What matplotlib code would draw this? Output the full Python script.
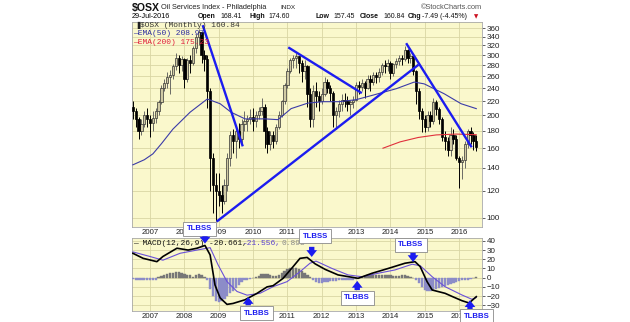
import numpy as np
import matplotlib.pyplot as plt
from matplotlib.ticker import FixedLocator, NullLocator

# month index: 0 = Jan 2007 ; data Jul 2006 .. Jul 2016
months = np.arange(-6, 115)
years = ['2007', '2008', '2009', '2010', '2011', '2012', '2013', '2014', '2015', '2016']
year_start = [0, 12, 24, 36, 48, 60, 72, 84, 96, 108]

opens = [212, 205, 195, 180, 188, 200,
         195, 190, 196, 205, 218, 240, 248, 258, 262, 278, 295, 280,
         292, 255, 290, 285, 315, 340, 350, 300, 292, 235, 150, 125,
         120, 117, 112, 125, 150, 175, 168, 180, 170, 188, 192, 195,
         198, 192, 200, 205, 212, 180, 165, 175, 168, 185, 200, 220,
         245, 270, 290, 295, 298, 285, 270, 278, 230, 195, 235, 228,
         220, 230, 250, 240, 232, 200, 205, 215, 222, 220, 215, 218,
         222, 245, 242, 248, 240, 255, 250, 262, 258, 268, 280, 278,
         285, 265, 282, 288, 295, 292, 310, 295, 298, 270, 235, 205,
         195, 185, 200, 192, 218, 208, 195, 172, 168, 158, 175, 170,
         150, 146, 148, 165, 180, 175, 168.41]
closes = [205, 195, 180, 188, 200, 195,
          190, 196, 205, 218, 240, 248, 258, 262, 278, 295, 280, 292,
          255, 290, 285, 315, 340, 350, 300, 292, 235, 150, 125, 120,
          117, 112, 125, 150, 175, 168, 180, 170, 188, 192, 195, 198,
          192, 200, 205, 212, 180, 165, 175, 168, 185, 200, 220, 245,
          270, 290, 295, 298, 285, 270, 278, 230, 195, 235, 228, 220,
          230, 250, 240, 232, 200, 205, 215, 222, 220, 215, 218, 222,
          245, 242, 248, 240, 255, 250, 262, 258, 268, 280, 278, 285,
          265, 282, 288, 295, 292, 310, 295, 298, 270, 235, 205, 195,
          185, 200, 192, 218, 208, 195, 172, 168, 158, 175, 170, 150,
          146, 148, 165, 180, 175, 168, 160.84]
highs = [220, 210, 198, 195, 205, 210,
         200, 205, 210, 222, 245, 255, 268, 272, 282, 305, 300, 298,
         295, 295, 300, 318, 345, 358, 350, 310, 300, 240, 155, 135,
         135, 125, 130, 155, 180, 182, 185, 190, 195, 205, 200, 208,
         210, 205, 212, 225, 215, 185, 180, 180, 188, 205, 222, 248,
         275, 295, 300, 305, 298, 290, 290, 280, 240, 245, 250, 235,
         240, 258, 255, 245, 235, 212, 222, 230, 232, 228, 222, 228,
         250, 252, 255, 252, 262, 262, 268, 268, 275, 285, 290, 292,
         288, 285, 295, 300, 300, 318, 312, 305, 300, 272, 240, 210,
         200, 205, 205, 225, 222, 212, 198, 180, 172, 185, 182, 175,
         152, 152, 168, 182, 184, 178, 174.6]
lows = [195, 185, 170, 175, 185, 185,
        172, 180, 190, 200, 215, 235, 240, 230, 255, 272, 265, 270,
        240, 250, 265, 280, 305, 320, 285, 270, 210, 120, 103, 98,
        108, 103, 110, 120, 142, 155, 150, 160, 165, 180, 180, 188,
        180, 185, 195, 200, 160, 155, 158, 160, 165, 182, 198, 215,
        240, 265, 275, 275, 265, 250, 255, 212, 185, 185, 212, 205,
        215, 228, 232, 220, 185, 182, 198, 205, 212, 205, 200, 210,
        220, 230, 235, 225, 238, 235, 245, 248, 250, 262, 265, 270,
        255, 260, 275, 280, 280, 288, 285, 285, 262, 215, 195, 178,
        178, 180, 185, 188, 200, 188, 168, 158, 152, 152, 165, 148,
        122, 130, 140, 160, 165, 158, 157.45]

ema50_m = [-6, -2, 1, 4, 8, 14, 20, 24.5, 28.3, 33.2, 40.2, 44.7, 49.3, 55.2,
           60.5, 66, 72, 78, 86, 92.3, 95.8, 102.8, 108.7, 114]
ema50_v = [143, 148, 154, 165, 182, 204, 223, 216, 204, 195, 195, 194, 209, 217,
           219, 219, 222, 229, 239, 250, 247, 231, 216, 208.97]
ema200_m = [81.4, 87.4, 93.7, 100, 107, 114]
ema200_v = [160, 167, 172, 175, 176, 175.23]

macd_m = [-6, -2.4, 2.4, 4.5, 9.4, 13.3, 16.4, 19.2, 21, 22.7, 24.5, 26.9, 29,
          33.2, 37.4, 40.9, 43, 46.5, 50, 52.4, 54.9, 57.7, 61.2, 65.7, 72.7,
          77.6, 83.2, 89.1, 92.6, 94.4, 96.8, 98.6, 103.1, 106, 109, 111.5, 114]
macd_v = [26.5, 21, 17.4, 23, 32, 30, 32, 35, 24.7, -8, -22, -29, -28,
          -24, -17, -10, -8.7, -0.7, 12, 21, 22, 15, 9, 3, -0.7,
          4.8, 10, 15.7, 17.4, 12, -4.3, -13.4, -17, -21, -25, -27.5, -20.661]
sig_m = [-6, 0, 4.5, 10.5, 16.4, 21, 23.8, 26.9, 30.4, 33.9, 38.4, 43, 47.9,
         52.4, 55.9, 58, 63.6, 69.2, 74.1, 79.7, 85.6, 91.6, 94.4, 98.6, 103.1,
         109, 112.5, 114]
sig_v = [28, 23, 19, 26.5, 30, 32.6, 13.8, -4.3, -15, -19, -17, -9.8, -4.3,
         6.5, 15.7, 18, 10, 3, 1, 4.8, 8.4, 14.6, 13, 1, -9.8,
         -18.8, -23.5, -21.556]
hist = [-1, -2, -2, -2, -3, -3,
        -3, -3, -2, 1, 2, 3, 4, 5, 5, 6, 6, 5,
        4, 3, 3, 1, 3, 4, 3, 1, -3, -12, -20, -25,
        -26, -25, -23, -20, -17, -14, -11, -8, -5, -3, -2, -1,
        0, 1, 2, 4, 4, 4, 3, 2, 2, 3, 5, 7,
        9, 10, 11, 10, 9, 7, 5, 3, 1, -3, -5, -6,
        -6, -5, -5, -4, -4, -4, -3, -3, -3, -2, -2, -2,
        -1, 0, 1, 2, 3, 3, 3, 3, 3, 3, 3, 3,
        3, 2, 2, 2, 3, 3, 2, 1, 0, -2, -6, -10,
        -13, -14, -14, -13, -12, -11, -10, -9, -8, -7, -6, -5,
        -4, -3, -2, -2, -1, 0, 0.895]

# hand drawn trend lines (month, price)
trend_lines = [[(18.4, 367), (32.4, 162)],
               [(23.3, 97.5), (93.8, 281)],
               [(48.3, 316), (74, 232)],
               [(89.5, 325), (112.4, 161)]]

# signal boxes: label, box (month, macd), arrow tip, arrow tail
signals = [('TLBSS', (17.3, 52.9), (19.2, 37.0), (19.2, 45.0)),
           ('TLBSS', (57.7, 44.8), (56.5, 22.5), (56.5, 33.5)),
           ('TLBBS', (37.2, -38.6), (34.3, -21.0), (34.3, -30.0)),
           ('TLBBS', (72.4, -22.0), (72.4, -3.5), (72.4, -13.5)),
           ('TLBSS', (91.2, 35.5), (91.9, 17.0), (91.9, 27.0)),
           ('TLBBS', (114.2, -42.0), (111.8, -24.5), (111.8, -34.0))]

W, H = 630, 322
BG = '#faf8cc'
GRID = '#d9d6a4'
BLUE = '#1c1cf0'
SANS = 'Liberation Sans'
MONO = 'Liberation Mono'

def fx(x):
    return x / W

def fy(y):
    return 1 - y / H

fig = plt.figure(figsize=(6.3, 3.22), dpi=100)
ax = fig.add_axes([fx(132), fy(227), fx(482) - fx(132), fy(22) - fy(227)])
ax2 = fig.add_axes([fx(132), fy(311), fx(482) - fx(132), fy(238) - fy(311)])

o = np.array(opens, float)
c = np.array(closes, float)
hi = np.array(highs, float)
lo = np.array(lows, float)
up = c >= o
body_lo = np.minimum(o, c)
body_h = np.maximum(np.abs(c - o), 0.8)

ax.set_yscale('log')
ax.vlines(months[up], lo[up], hi[up], color='#555555', lw=0.6, zorder=3)
ax.vlines(months[~up], lo[~up], hi[~up], color='black', lw=0.7, zorder=3)
ax.bar(months[up], body_h[up], bottom=body_lo[up], width=0.8,
       color='#d0caa4', edgecolor='#333333', lw=0.5, zorder=4)
ax.bar(months[~up], body_h[~up], bottom=body_lo[~up], width=0.8,
       color='black', edgecolor='black', lw=0.5, zorder=4)

ax.plot(ema50_m, ema50_v, color='#3b3ba8', lw=0.8, zorder=5)
ax.plot(ema200_m, ema200_v, color='#e0303c', lw=0.8, zorder=5)
for seg in trend_lines:
    xs, ys = zip(*seg)
    ax.plot(xs, ys, color=BLUE, lw=1.7, zorder=6, solid_capstyle='butt')

ax.set_xlim(-6.3, 116)
ax.set_ylim(94, 375)
ax.yaxis.set_major_locator(FixedLocator(list(range(100, 361, 20))))
ax.yaxis.set_minor_locator(NullLocator())
ax.set_yticklabels([str(v) for v in range(100, 361, 20)])

# MACD panel
hist = np.array(hist, float)
hcol = np.where(hist >= 0, '#777777', '#8c8cc8')
ax2.bar(months, hist, width=0.8, color=hcol, edgecolor=hcol, lw=0.3, zorder=3)
ax2.plot(sig_m, sig_v, color='#6a50d8', lw=0.8, zorder=4)
ax2.plot(macd_m, macd_v, color='black', lw=1.2, zorder=5)
ax2.set_xlim(-6.3, 116)
ax2.set_ylim(-36.2, 43.1)
ax2.set_yticks(list(range(-30, 41, 10)))

for a in (ax, ax2):
    a.set_facecolor(BG)
    a.set_xticks(year_start)
    a.set_xticklabels(years, family=SANS)
    a.yaxis.tick_right()
    a.tick_params(axis='x', length=0, pad=1.5, labelsize=5.6, colors='#222222')
    a.tick_params(axis='y', length=2, width=0.5, pad=1.5, labelsize=5.8,
                  colors='#222222')
    for lab in a.get_yticklabels():
        lab.set_family(SANS)
    a.grid(True, color=GRID, lw=0.6, zorder=0)
    a.set_axisbelow(True)
    for s in a.spines.values():
        s.set_color('#a8a8a8')
        s.set_linewidth(0.6)

for label, box, tip, tail in signals:
    ax2.text(box[0], box[1], label, ha='center', va='center', fontsize=5.6,
             fontweight='bold', color=BLUE, family=SANS,
             bbox=dict(boxstyle='square,pad=0.45', fc='white', ec='#8a8a8a', lw=0.6),
             clip_on=False, zorder=20)
    ax2.annotate('', xy=tip, xytext=tail, annotation_clip=False, zorder=20,
                 arrowprops=dict(arrowstyle='simple,head_length=0.7,head_width=1.1,tail_width=0.55',
                                 fc=BLUE, ec='none', mutation_scale=7,
                                 shrinkA=0, shrinkB=0))

# header
fig.text(fx(132), fy(7.5), '$OSX', fontsize=7.6, fontweight='bold', family=SANS,
         va='center', color='#111111')
fig.text(fx(161), fy(7.5), 'Oil Services Index - Philadelphia', fontsize=5.3,
         family=SANS, va='center', color='#222222')
fig.text(fx(280), fy(7.5), 'INDX', fontsize=4.6, family=SANS, va='center',
         color='#222222')
fig.text(fx(482), fy(7.5), '\u00a9StockCharts.com', fontsize=5.3, family=SANS,
         va='center', ha='right', color='#555555')

fig.text(fx(132), fy(16.5), '29-Jul-2016', fontsize=5.2, family=SANS, va='center')
row = [('Open', True, 198), ('168.41', False, 220.5), ('High', True, 249),
       ('174.60', False, 268.5), ('Low', True, 316), ('157.45', False, 333),
       ('Close', True, 360), ('160.84', False, 383.5), ('Chg', True, 407.5),
       ('-7.49 (-4.45%)', False, 422)]
for txt, bold, x in row:
    fig.text(fx(x), fy(16.5), txt, fontsize=5.0, family=SANS, va='center',
             fontweight='bold' if bold else 'normal', color='#111111')
fig.text(fx(474), fy(17), '\u25bc', fontsize=4, family='DejaVu Sans', va='center',
         color='#cc1020')

# panel legends (kept inside the axes so the signal boxes sit on top)
ax.text(fx(134), fy(25.5), '\u2590', fontsize=5, family='DejaVu Sans', va='center',
        color='#222222', transform=fig.transFigure, zorder=15)
ax.text(fx(140), fy(25.5), '$OSX (Monthly) 160.84', fontsize=5.7, family=MONO,
        va='center', color='#333333', transform=fig.transFigure, zorder=15)
ax.text(fx(133), fy(33.5), '\u2014EMA(50) 208.97', fontsize=5.7, family=MONO,
        va='center', color='#2a2aa0', transform=fig.transFigure, zorder=15)
ax.text(fx(133), fy(42.5), '\u2014EMA(200) 175.23', fontsize=5.7, family=MONO,
        va='center', color='#e0203c', transform=fig.transFigure, zorder=15)
ax2.text(fx(133), fy(243.5), '\u2014 MACD(12,26,9) -20.661,', fontsize=5.7, family=MONO,
         va='center', color='#111111', transform=fig.transFigure, zorder=15)
ax2.text(fx(243), fy(243.5), '-21.556,', fontsize=5.7, family=MONO,
         va='center', color='#5a40d0', transform=fig.transFigure, zorder=15)
ax2.text(fx(281), fy(243.5), '0.895', fontsize=5.7, family=MONO,
         va='center', color='#888888', transform=fig.transFigure, zorder=15)

fig.savefig('out.png', dpi=100, facecolor='white')
